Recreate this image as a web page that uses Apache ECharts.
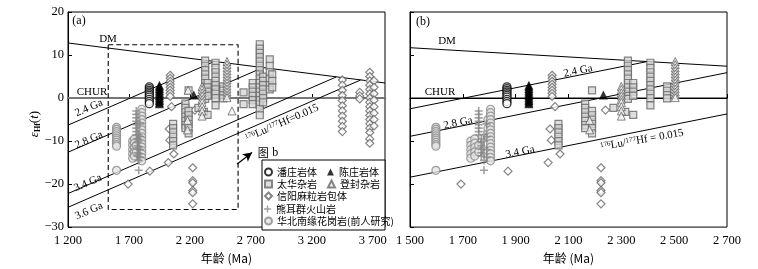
<!DOCTYPE html>
<html><head><meta charset="utf-8">
<script src="https://cdn.jsdelivr.net/npm/echarts@6/dist/echarts.min.js"></script>
<style>html,body{margin:0;padding:0;background:#fff}#c{width:758px;height:269px}</style>
</head><body><div id="c"></div>
<script>
const SERIF = '"Liberation Serif","DejaVu Serif",serif';
const CJK = '"Noto Sans CJK SC","Noto Sans CJK JP",sans-serif';

// ---- tick settings ----
const xTicksA = {min:1200, max:3800, interval:500};
const xTicksB = {min:1500, max:2700, interval:200};
const yTicks = {min:-30, max:20, interval:10};

// ---- reference lines (age Ma, epsilon Hf) ----
const dmA   = [[1200,12.8],[3800,3.5]];
const churA = [[1200,0],[3800,0]];
const ga24A = [[1200,-6.3],[2400,8.5]];
const ga28A = [[1200,-12.6],[2800,7.1]];
const ga34A = [[1200,-22.2],[3400,4.9]];
const ga36A = [[1200,-25.4],[3600,4.2]];
const boxA  = [[1530,12.4],[2595,12.4],[2595,-25.9],[1530,-25.9],[1530,12.4]];
const arrowA = [[2586,-15.4],[2709,-12.65]];
const dmB   = [[1500,11.7],[2700,7.4]];
const churB = [[1500,0],[2700,0]];
const ga24B = [[1500,-2.5],[2400,8.5]];
const ga28B = [[1500,-8.9],[2700,5.9]];
const ga34B = [[1500,-18.4],[2700,-3.7]];

// ---- sample data (age Ma, epsilon Hf(t)) ----
const panzhuang = [[1867,2.6],[1867,2.2],[1867,1.8],[1867,1.4],[1867,1.0],[1867,0.6],[1867,0.2],[1867,-0.3],[1867,-0.8],[1867,-1.3]];
const chenzhuang = [[1950,3.0],[1950,2.6],[1950,2.2],[1950,1.8],[1950,1.4],[1950,1.0],[1950,0.6],[1950,0.2],[1950,-0.2],[1950,-0.6],[1950,-1.0],[1950,-1.3],[2232,0.7]];
const taihua = [
 [2062,-6.0],[2062,-7.0],[2062,-8.0],[2062,-9.0],[2062,-10.0],[2062,-11.0],
 [2163,-1.3],[2163,-2.3],[2163,-3.3],[2163,-4.3],[2163,-5.3],[2163,-6.3],[2163,-7.0],
 [2189,-3.0],[2189,-4.0],[2189,-5.0],[2189,-6.0],[2189,-7.0],[2189,-8.2],[2189,1.8],
 [2270,-2.3],[2315,-3.2],[2345,-3.9],
 [2325,8.7],[2325,7.5],[2325,6.5],[2325,5.5],[2325,4.5],[2325,3.5],[2325,2.5],[2325,1.5],[2325,0.5],[2325,-0.2],
 [2345,3.5],[2345,2.5],[2345,1.5],[2345,0.5],
 [2410,8.2],[2410,7.0],[2410,6.0],[2410,5.0],[2410,4.0],[2410,3.0],[2410,2.0],[2410,1.0],[2410,0.0],[2410,-1.7],
 [2473,2.7],[2473,1.7],[2473,0.7],[2473,-0.1]
];
const taihuaOnlyA = [
 [2640,1.3],[2640,-1.4],
 [2715,3.5],[2715,2.5],[2715,1.5],[2715,0.5],[2715,-0.5],[2715,-1.4],
 [2773,12.5],[2773,11.5],[2773,10.5],[2773,9.5],[2773,8.5],[2773,7.5],[2773,6.5],[2773,5.5],[2773,4.5],[2773,3.5],[2773,2.5],[2773,1.5],[2773,0.5],[2773,-0.5],[2773,-1.5],[2773,-2.5],[2773,-4.0],
 [2800,5.0],[2800,4.0],[2800,3.0],[2800,2.0],[2800,1.0],[2800,0.0],[2800,-1.0],
 [2855,9.0],[2855,7.5],[2855,6.0],[2855,4.5],[2855,3.0],[2855,2.0],
 [2875,5.5],[2875,4.0],[2875,2.5]
];
const dengfeng = [
 [2300,2.7],[2300,2.0],[2300,1.2],[2300,0.5],[2300,-0.3],[2300,-1.0],[2300,-2.0],[2300,-3.0],[2300,-4.2],
 [2504,8.5],[2504,7.8],[2504,7.0],[2504,6.3],[2504,5.6],[2504,4.9],[2504,4.2],[2504,3.5],[2504,2.8],[2504,2.1],[2504,1.4],[2504,0.7],[2504,0.1],
 [2180,-5.2],[2180,-7.4]
];
const dengfengOnlyA = [[2185,1.8],[2545,-3.0]];
const xinyang = [
 [2038,5.3],[2038,4.6],[2038,3.9],[2038,3.2],[2038,2.5],[2038,1.8],[2038,1.1],[2038,0.4],
 [2049,-2.0],[2030,-7.2],[2035,-9.8],[2023,-15.0],[2068,-13.0],[1871,-17.0],[1693,-20.0],
 [2223,-16.2],[2223,-19.2],[2223,-19.7],[2223,-21.5],[2223,-22.0],[2223,-24.6],[2240,-2.8],
 [3450,4.2],[3450,3.0],[3450,1.8],[3450,0.6],[3450,-0.6],[3450,-1.8],[3450,-3.0],[3450,-4.2],[3450,-5.4],[3450,-6.6],[3450,-7.8],
 [3593,1.3],[3593,0.5],[3593,-0.2],
 [3675,6.0],[3675,5.0],[3675,4.0],[3675,3.0],[3675,2.0],[3675,1.0],[3675,0.0],[3675,-1.0],[3675,-2.0],[3675,-3.0],[3675,-4.0],[3675,-5.0],[3675,-6.0],[3675,-7.0],[3675,-8.0],[3675,-9.5],[3675,-10.5],
 [3710,4.0],[3710,2.5],[3710,1.0],[3710,-0.5],[3710,-2.0],[3710,-3.5],[3710,-5.0],[3710,-6.5]
];
const xionger = [
 [1760,-3.0],[1760,-3.8],[1760,-4.6],[1760,-5.4],[1760,-6.2],[1760,-7.0],[1760,-7.8],[1760,-8.6],
 [1770,-9.5],[1770,-10.3],[1770,-11.1],[1770,-11.9],[1770,-12.7],[1770,-13.5],
 [1780,-8.5],[1780,-10.0],[1780,-11.5],[1780,-13.0],[1780,-14.5],[1780,-16.8],
 [1790,-6.0],[1790,-9.0],[1790,-12.0],[1790,-13.8]
];
const huabei = [
 [1598,-6.8],[1598,-7.3],[1598,-7.8],[1598,-8.3],[1598,-8.8],[1598,-9.3],[1598,-9.8],[1598,-10.3],[1598,-10.8],[1598,-11.2],[1598,-16.8],
 [1730,-10.0],[1730,-11.0],[1730,-12.0],[1730,-13.0],[1730,-14.0],
 [1745,-9.5],[1745,-10.5],[1745,-11.5],[1745,-12.5],[1745,-13.5],
 [1760,-11.0],[1760,-12.5],
 [1795,-5.0],[1795,-7.0],[1795,-9.0],
 [1805,-2.6],[1805,-3.4],[1805,-4.2],[1805,-5.0],[1805,-5.8],[1805,-6.6],[1805,-7.4],[1805,-8.2],[1805,-9.0],[1805,-9.8],[1805,-10.6],[1805,-11.4],[1805,-12.2],[1805,-13.0],[1805,-13.8],[1805,-14.6]
];

// ---- styles ----
const PLUS = 'path://M4,0H6V4H10V6H6V10H4V6H0V4H4Z';
const styles = {
 '华北南缘花岗岩(前人研究)': {symbol:'circle', symbolSize:8, itemStyle:{color:'#e4e4e4', borderColor:'#888', borderWidth:1.2}},
 '熊耳群火山岩': {symbol:PLUS, symbolSize:8, itemStyle:{color:'#888'}},
 '信阳麻粒岩包体': {symbol:'diamond', symbolSize:8, itemStyle:{color:'#fff', borderColor:'#666', borderWidth:1.2}},
 '太华杂岩': {symbol:'rect', symbolSize:7, itemStyle:{color:'#d6d6d6', borderColor:'#666', borderWidth:1.2}},
 '登封杂岩': {symbol:'triangle', symbolSize:8, itemStyle:{color:'#f2f2f2', borderColor:'#666', borderWidth:1}},
 '陈庄岩体': {symbol:'triangle', symbolSize:9, itemStyle:{color:'#000'}},
 '潘庄岩体': {symbol:'circle', symbolSize:8, itemStyle:{color:'#fff', borderColor:'#000', borderWidth:1.3}}
};
const sets = [
 ['华北南缘花岗岩(前人研究)', huabei, []],
 ['熊耳群火山岩', xionger, []],
 ['信阳麻粒岩包体', xinyang, []],
 ['太华杂岩', taihua, taihuaOnlyA],
 ['登封杂岩', dengfeng, dengfengOnlyA],
 ['陈庄岩体', chenzhuang, []],
 ['潘庄岩体', panzhuang, []]
];

function lineS(data, g, style, extra) {
  return Object.assign({type:'line', data:data, xAxisIndex:g, yAxisIndex:g, symbol:'none', silent:true,
    z:1, clip:true, lineStyle:Object.assign({color:'#000', width:1}, style)}, extra||{});
}
const series = [];
series.push(lineS(dmA,0,{}), lineS(churA,0,{color:'#777', width:2}), lineS(ga24A,0,{}), lineS(ga28A,0,{}), lineS(ga34A,0,{}), lineS(ga36A,0,{}));
series.push(lineS(boxA,0,{type:[5,3], width:1.1}, {markLine:{silent:true, symbol:['none','arrow'], symbolSize:[7,9],
  label:{show:false}, lineStyle:{color:'#000', width:1.2, type:'solid'},
  data:[[{coord:arrowA[0]},{coord:arrowA[1]}]]}}));
series.push(lineS(dmB,1,{}), lineS(churB,1,{}), lineS(ga24B,1,{}), lineS(ga28B,1,{}), lineS(ga34B,1,{}));
sets.forEach(([name, data, onlyA]) => {
  [0,1].forEach(g => {
    const d = g===0 ? data.concat(onlyA) : data;
    series.push(Object.assign({type:'scatter', name:name, data:d, xAxisIndex:g, yAxisIndex:g, z:3, silent:true, clip:true}, styles[name]));
  });
});

function fmtAge(v){ const s=String(v); return s.slice(0,s.length-3)+' '+s.slice(-3); }
const axisCommon = {
  axisLine:{show:true, lineStyle:{color:'#000', width:1}},
  axisTick:{show:true, inside:true, length:4, lineStyle:{color:'#000'}},
  splitLine:{show:false}
};
const xLabel = {fontFamily:SERIF, fontSize:12.5, color:'#000', margin:7};
const xName = {name:'年龄 (Ma)', nameLocation:'middle', nameGap:22, nameTextStyle:{fontFamily:CJK, fontSize:12, color:'#000'}};

const legendRows = [
  {names:['潘庄岩体','陈庄岩体'], top:166},
  {names:['太华杂岩','登封杂岩'], top:178},
  {names:['信阳麻粒岩包体'], top:190},
  {names:['熊耳群火山岩'], top:203},
  {names:['华北南缘花岗岩(前人研究)'], top:215}
];

const gtext = (x,y,text,opt) => Object.assign({type:'text', x:x, y:y, z:50, silent:true,
  style:Object.assign({text:text, fontFamily:SERIF, fontSize:11, fill:'#000', align:'center', verticalAlign:'middle'}, (opt&&opt.style)||{})},
  opt&&opt.rotation!==undefined?{rotation:opt.rotation}:{});
const degA = 23.7*Math.PI/180, degB = 11.5*Math.PI/180;
const supRich = {s:{fontSize:7, verticalAlign:'top', fontFamily:SERIF}, n:{fontSize:11, fontFamily:SERIF}};

const option = {
  animation:false,
  backgroundColor:'#fff',
  grid:[
    {left:68, top:12, width:317, height:218, show:true, borderColor:'#000', borderWidth:1, backgroundColor:'transparent'},
    {left:410, top:12, width:317, height:218, show:true, borderColor:'#000', borderWidth:1, backgroundColor:'transparent'}
  ],
  xAxis:[
    Object.assign({type:'value', gridIndex:0, min:xTicksA.min, max:xTicksA.max, interval:xTicksA.interval,
      axisLabel:Object.assign({formatter:v => v===xTicksA.max ? '' : fmtAge(v), showMaxLabel:false}, xLabel)}, axisCommon, xName),
    Object.assign({type:'value', gridIndex:1, min:xTicksB.min, max:xTicksB.max, interval:xTicksB.interval,
      axisLabel:Object.assign({formatter:v => fmtAge(v)}, xLabel)}, axisCommon, xName)
  ],
  yAxis:[
    Object.assign({type:'value', gridIndex:0, min:yTicks.min, max:yTicks.max, interval:yTicks.interval,
      axisLabel:{formatter:v => String(v).replace('-','\u2212'), fontFamily:SERIF, fontSize:12.5, color:'#000', margin:4}}, axisCommon),
    Object.assign({type:'value', gridIndex:1, min:yTicks.min, max:yTicks.max, interval:yTicks.interval,
      axisLabel:{show:false}}, axisCommon)
  ],
  legend: legendRows.map(r => ({data:r.names, left:264, top:r.top, orient:'horizontal', itemGap:10,
    itemWidth:7, itemHeight:7, padding:0, selectedMode:false, z:60,
    textStyle:{fontFamily:CJK, fontSize:10, color:'#000', lineHeight:12}})),
  graphic:[
    {type:'rect', z:55, silent:true, shape:{x:262, y:160, width:123, height:70}, style:{fill:'#fff', stroke:'#000', lineWidth:1}},
    gtext(79,21,'(a)',{style:{fontSize:12}}),
    gtext(423,22,'(b)',{style:{fontSize:12}}),
    gtext(108,39,'DM'),
    gtext(92,92,'CHUR'),
    gtext(89,108,'2.4 Ga',{rotation:degA}),
    gtext(89,140,'2.8 Ga',{rotation:degA}),
    gtext(88,183,'3.4 Ga',{rotation:degA}),
    gtext(89,211,'3.6 Ga',{rotation:degA}),
    gtext(282,123,'{s|176}{n|Lu/}{s|177}{n|Hf=0.015}',{rotation:degA, style:{rich:supRich}}),
    {type:'text', x:268, y:153, z:50, silent:true, style:{text:'{c|图} {n|b}', align:'center', verticalAlign:'middle',
      rich:{c:{fontFamily:CJK, fontSize:11}, n:{fontFamily:SERIF, fontSize:12}}, fill:'#000'}},
    gtext(447,41,'DM'),
    gtext(440,92,'CHUR'),
    gtext(578,71,'2.4 Ga',{rotation:degB}),
    gtext(458,123,'2.8 Ga',{rotation:degB}),
    gtext(520,152,'3.4 Ga',{rotation:degB}),
    gtext(642,140,'{s|176}{n|Lu/}{s|177}{n|Hf = 0.015}',{rotation:10*Math.PI/180, style:{rich:supRich}}),
    {type:'text', x:35, y:124, z:50, rotation:Math.PI/2, silent:true,
      style:{text:'{e|ε}{h|Hf}{p|(}{e|t}{p|)}', align:'center', verticalAlign:'middle', fill:'#000',
        rich:{e:{fontFamily:SERIF, fontStyle:'italic', fontSize:13}, h:{fontFamily:SERIF, fontSize:8, fontWeight:'bold', verticalAlign:'bottom'}, p:{fontFamily:SERIF, fontSize:13}}}}
  ],
  series:series
};
const chart = echarts.init(document.getElementById('c'), null, {renderer:'canvas'});
chart.setOption(option);
</script></body></html>
